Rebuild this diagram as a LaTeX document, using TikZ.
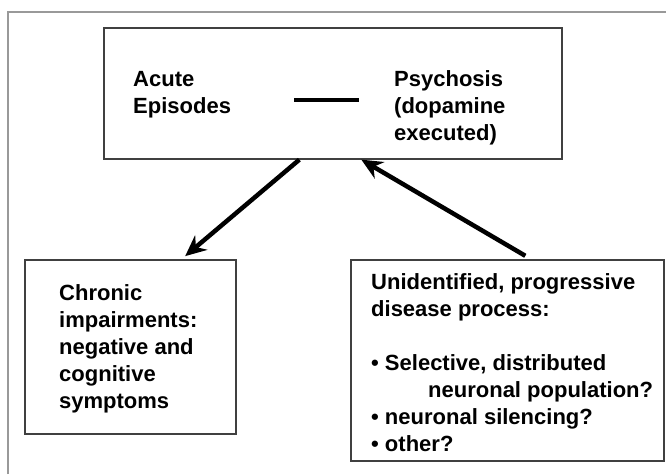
\documentclass[tikz,border=0pt]{standalone}
\usepackage{fontspec}
\setmainfont{Liberation Sans}
\usetikzlibrary{arrows.meta,calc}

\begin{document}
\begin{tikzpicture}[
  x=1pt, y=-1pt,
  every node/.style={font=\fontsize{22}{27}\selectfont\bfseries},
  panel/.style={draw=black!75, line width=1.3pt, rectangle, inner sep=0pt},
  words/.style={align=left, anchor=base west, inner sep=0pt},
  flow/.style={-{Stealth[length=21pt,width=19pt,inset=7pt]}, line width=4.5pt}
]
\useasboundingbox (0,0) rectangle (666,474);
\draw[black!40, line width=1.2pt] (8,474) |- (666,12);
\node[panel, minimum width=458pt, minimum height=131pt] (episode) at (333,93.5) {};
\node[panel, minimum width=211pt, minimum height=174pt] (chronic) at (130.5,347) {};
\node[panel, minimum width=313pt, minimum height=201pt] (disease) at (507.5,360.5) {};
% base anchor sits on the last line
\node[words] (acute) at (133,113) {Acute\\Episodes};
\node[words] (psych) at (394,140) {Psychosis\\(dopamine\\executed)};
\node[words] (impair) at (59,408) {Chronic\\impairments:\\negative and\\cognitive\\symptoms};
\node[words] (process) at (371,451) {Unidentified, progressive\\disease process:\\[27pt]
  • Selective, distributed\\\hspace*{57pt}neuronal population?\\• neuronal silencing?\\• other?};
\draw[line width=4pt] (294,100) -- (359,100);
\draw[flow, shorten >=5pt] ($(episode.south west)+(196,0)$) -- ($(chronic.north west)+(157,0)$);
\draw[flow, shorten <=7pt] ($(disease.north west)+(181,0)$) -- ($(episode.south west)+(258,0)$);
\end{tikzpicture}
\end{document}
